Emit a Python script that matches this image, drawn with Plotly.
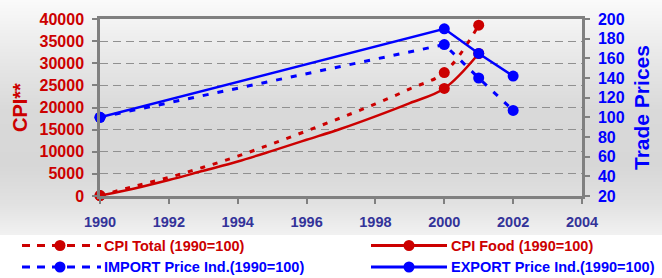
import base64, struct, zlib
import plotly.graph_objects as go

# ---------------- data ----------------
cpi_years = [1990, 1991, 1992, 1993, 1994, 1995, 1996, 1997, 1998, 1999, 2000, 2001]
cpi_total = [100, 2200, 4200, 6500, 9000, 11800, 14700, 17700, 20800, 24200, 27900, 38600]
cpi_food = [100, 1700, 3600, 5700, 7800, 10200, 12700, 15200, 18000, 21000, 24300, 32200]
cpi_marker_years = [1990, 2000, 2001]

trade_years = [1990, 2000, 2001, 2002]
import_idx = [100, 174, 140, 107]
export_idx = [100, 190, 165, 142]

x_ticks = [1990, 1992, 1994, 1996, 1998, 2000, 2002, 2004]
legend_names = ["CPI Total (1990=100)", "CPI Food (1990=100)",
                "IMPORT Price Ind.(1990=100)", "EXPORT Price Ind.(1990=100)"]

# ---------------- styles ----------------
RED = "#CC0000"
BLUE = "#0000FF"
NAVY = "#333399"
GRAY = "#808080"
FONT = "Liberation Sans, Arial, sans-serif"
W, H = 662, 278
L, R, T, B = 100, 80, 19, 82
PW, PH = W - L - R, H - T - B


def px_x(p):
    return (p - L) / PW


def px_y(p):
    return (H - B - p) / PH


def gradient_png(levels):
    raw = b"".join(b"\x00" + bytes([v]) for v in levels)
    def chunk(tag, data):
        c = struct.pack(">I", len(data)) + tag + data
        return c + struct.pack(">I", zlib.crc32(tag + data) & 0xffffffff)
    png = b"\x89PNG\r\n\x1a\n"
    png += chunk(b"IHDR", struct.pack(">IIBBBBB", 1, len(levels), 8, 0, 0, 0, 0))
    png += chunk(b"IDAT", zlib.compress(raw))
    png += chunk(b"IEND", b"")
    return "data:image/png;base64," + base64.b64encode(png).decode()


stops = [(0, 250), (50, 234), (110, 217), (165, 215), (205, 226), (235, 242)]
levels = []
for yy in range(235):
    for (y0, v0), (y1, v1) in zip(stops[:-1], stops[1:]):
        if y0 <= yy <= y1:
            levels.append(int(round(v0 + (v1 - v0) * (yy - y0) / (y1 - y0))))
            break

cpi_sizes = [11 if y in cpi_marker_years else 0 for y in cpi_years]

fig = go.Figure()
fig.add_trace(go.Scatter(x=cpi_years, y=cpi_total, mode="lines+markers", name=legend_names[0],
                         line=dict(color=RED, width=3, dash="5px,8px", shape="spline", smoothing=1),
                         marker=dict(size=cpi_sizes, color=RED, opacity=1, line=dict(width=0)),
                         cliponaxis=False))
fig.add_trace(go.Scatter(x=cpi_years, y=cpi_food, mode="lines+markers", name=legend_names[1],
                         line=dict(color=RED, width=2.5, shape="spline", smoothing=1),
                         marker=dict(size=cpi_sizes, color=RED, opacity=1, line=dict(width=0)),
                         cliponaxis=False))
fig.add_trace(go.Scatter(x=trade_years, y=import_idx, mode="lines+markers", name=legend_names[2],
                         yaxis="y2",
                         line=dict(color=BLUE, width=3, dash="6px,9px"),
                         marker=dict(size=11, color=BLUE), cliponaxis=False))
fig.add_trace(go.Scatter(x=trade_years, y=export_idx, mode="lines+markers", name=legend_names[3],
                         yaxis="y2",
                         line=dict(color=BLUE, width=2.5),
                         marker=dict(size=11, color=BLUE), cliponaxis=False))

tick_font = dict(family=FONT, weight="bold")

fig.update_layout(
    width=W, height=H,
    margin=dict(l=L, r=R, t=T, b=B, pad=0),
    paper_bgcolor="white", plot_bgcolor="white",
    showlegend=False,
    xaxis=dict(range=[1990, 2004], tickvals=x_ticks, ticks="outside", ticklen=5, tickwidth=1.5,
               tickcolor=GRAY, showline=True, linecolor=GRAY, linewidth=2.5, mirror=True,
               showgrid=False, zeroline=False, ticklabelstandoff=6, tickformat="d",
               tickfont=dict(size=14.5, color=NAVY, **tick_font)),
    yaxis=dict(range=[0, 40000], dtick=5000, ticks="outside", ticklen=5, tickwidth=1.5,
               tickcolor=GRAY, showline=True, linecolor=GRAY, linewidth=2.5,
               showgrid=True, gridcolor="#909090", griddash="8px,5px", gridwidth=1,
               zeroline=False, ticklabelstandoff=5, tickformat="d",
               tickfont=dict(size=16, color=RED, **tick_font)),
    yaxis2=dict(range=[20, 200], dtick=20, overlaying="y", side="right", ticks="outside",
                ticklen=5, tickwidth=1.5, tickcolor=GRAY, showline=True, linecolor=GRAY,
                linewidth=2.5, showgrid=False, zeroline=False, ticklabelstandoff=5,
                tickfont=dict(size=16, color=BLUE, **tick_font)),
    images=[dict(source=gradient_png(levels), xref="paper", yref="paper",
                 x=px_x(0), y=px_y(0), sizex=W / PW, sizey=235 / PH,
                 xanchor="left", yanchor="top", sizing="stretch", layer="below")],
)

# axis titles
fig.add_annotation(text="CPI**", xref="paper", yref="paper", x=px_x(20), y=px_y(108),
                   textangle=-90, showarrow=False, xanchor="center", yanchor="middle",
                   font=dict(family=FONT, size=20, color=RED, weight="bold"))
fig.add_annotation(text="Trade Prices", xref="paper", yref="paper", x=px_x(642), y=px_y(108),
                   textangle=-90, showarrow=False, xanchor="center", yanchor="middle",
                   font=dict(family=FONT, size=21, color=BLUE, weight="bold"))

# custom legend
legend_items = [
    (legend_names[0], RED, "8px,7px", 22, 101, 60, 245.5, 102),
    (legend_names[2], BLUE, "8px,7px", 22, 101, 60, 267, 102),
    (legend_names[1], RED, "solid", 371, 447, 409, 245.5, 449),
    (legend_names[3], BLUE, "solid", 371, 447, 409, 267, 449),
]
for name, col, dash, x0, x1, xm, yy, xt in legend_items:
    fig.add_shape(type="line", xref="paper", yref="paper", x0=px_x(x0), x1=px_x(x1),
                  y0=px_y(yy), y1=px_y(yy), line=dict(color=col, width=3, dash=dash))
    fig.add_shape(type="circle", xref="paper", yref="paper", xsizemode="pixel", ysizemode="pixel",
                  xanchor=px_x(xm), yanchor=px_y(yy), x0=-5.5, x1=5.5, y0=-5.5, y1=5.5,
                  fillcolor=col, line=dict(color=col, width=0))
    fig.add_annotation(text=name, xref="paper", yref="paper", x=px_x(xt), y=px_y(yy),
                       xanchor="left", yanchor="middle", showarrow=False,
                       font=dict(family=FONT, size=14.5, color=col, weight="bold"))

fig.write_html("out.html", config={"displayModeBar": False},
               post_script="document.body.style.margin='0';document.body.style.overflow='hidden';")
